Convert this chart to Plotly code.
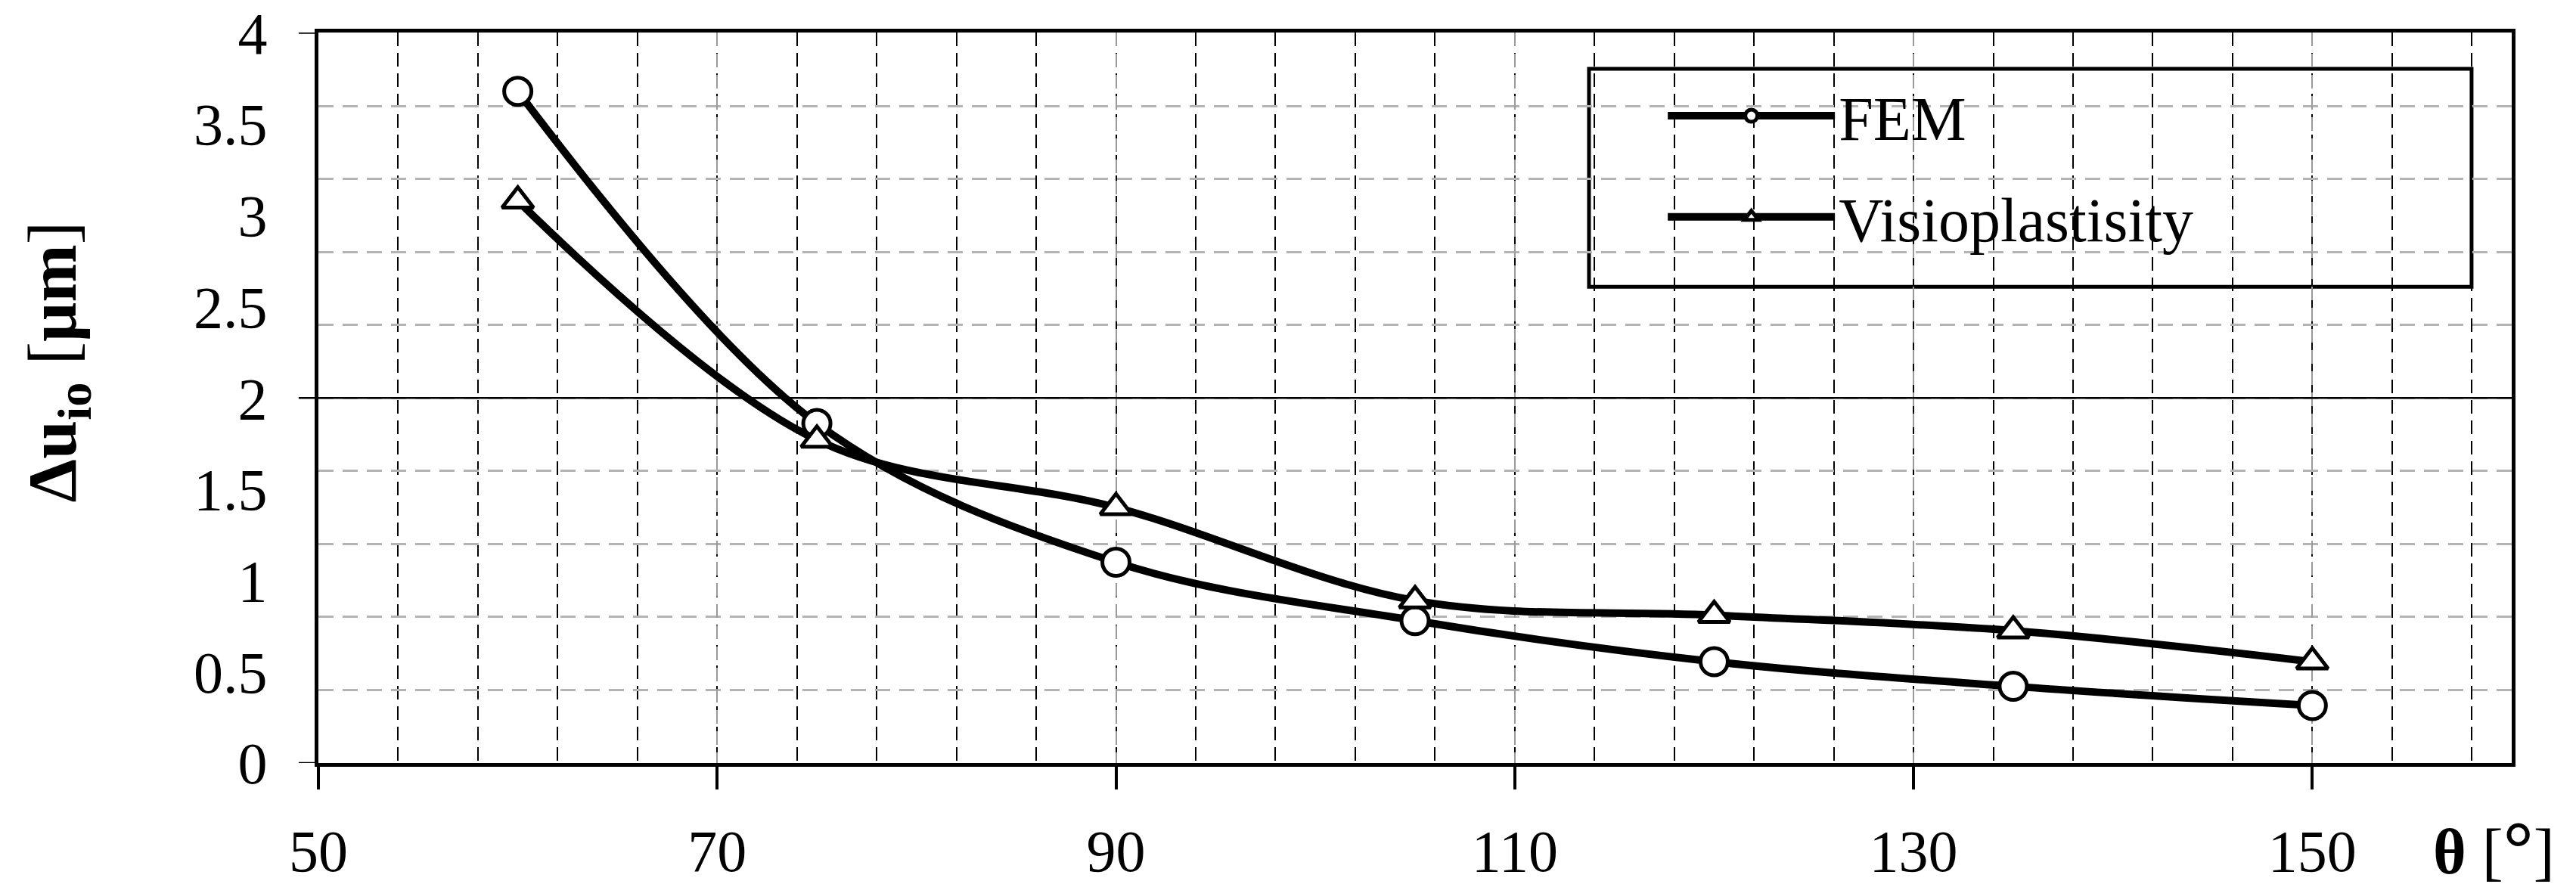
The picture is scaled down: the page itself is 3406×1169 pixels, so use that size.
import plotly.graph_objects as go

FONT = "Liberation Serif"

theta = [60, 75, 90, 105, 120, 135, 150]
fem = [3.68, 1.86, 1.10, 0.78, 0.555, 0.42, 0.315]
visio = [3.08, 1.77, 1.40, 0.89, 0.81, 0.725, 0.555]

x_ticks = [50, 70, 90, 110, 130, 150]
y_ticks = [0, 0.5, 1, 1.5, 2, 2.5, 3, 3.5, 4]
y_labels = ['0', '0.5', '1', '1.5', '2', '2.5', '3', '3.5', '4']

fig = go.Figure()

fig.add_trace(go.Scatter(
    x=theta, y=fem, name='FEM', legendgroup='fem',
    mode='lines+markers', cliponaxis=False,
    line=dict(color='black', width=10, shape='spline', smoothing=1),
    marker=dict(symbol='circle', size=36, color='white',
                line=dict(color='black', width=5))
))

fig.add_trace(go.Scatter(
    x=theta, y=visio, name='Visioplastisity', legendgroup='vis',
    mode='lines+markers', cliponaxis=False,
    line=dict(color='black', width=10, shape='spline', smoothing=1),
    marker=dict(symbol='triangle-up', size=36, color='white',
                line=dict(color='black', width=5))
))

# legend frame
fig.add_shape(type='rect', xref='paper', yref='paper',
              x0=0.5793, x1=0.9817, y0=0.652, y1=0.9503,
              line=dict(color='black', width=5), fillcolor='white', layer='below')

# solid major line at 2 and outside ticks on the y axis
fig.add_shape(type='line', xref='paper', yref='y', x0=-0.009, x1=1, y0=2, y1=2,
              line=dict(color='black', width=2.5))
for yv in (0, 4):
    fig.add_shape(type='line', xref='paper', yref='y', x0=-0.009, x1=0, y0=yv, y1=yv,
                  line=dict(color='black', width=2.5))

fig.add_annotation(
    text="<b>Δu<sub>io</sub></b> [<b>μm</b>]",
    xref='paper', yref='paper', x=-0.119, y=0.549,
    xanchor='center', yanchor='middle',
    textangle=-90, showarrow=False,
    font=dict(family=FONT, size=92, color='black')
)
fig.add_annotation(
    text="<b>θ</b> [<b><span style='font-size:100px'>°</span></b>]",
    xref='paper', yref='paper', x=0.992, y=-0.116,
    xanchor='center', yanchor='middle',
    showarrow=False, font=dict(family=FONT, size=84, color='black')
)

fig.update_layout(
    width=3406, height=1169,
    margin=dict(l=413, r=93, t=35, b=168, autoexpand=False),
    paper_bgcolor='white', plot_bgcolor='rgba(0,0,0,0)',
    font=dict(family=FONT, size=78, color='black'),
    showlegend=True,
    legend=dict(
        x=0.6135, y=0.948, xanchor='left', yanchor='top',
        bgcolor='rgba(0,0,0,0)', borderwidth=0,
        font=dict(family=FONT, size=82, color='black'),
        itemwidth=221, tracegroupgap=24, traceorder='grouped'
    ),
    xaxis=dict(
        range=[50, 160], tickmode='array', tickvals=x_ticks,
        ticks='outside', ticklen=30, tickwidth=4, tickcolor='black',
        ticklabelstandoff=14, ticklabeloverflow='allow', automargin=False,
        showgrid=True, gridcolor='#9a9a9a', gridwidth=2, griddash='18px,10px',
        showline=True, linecolor='black', linewidth=5, mirror=True,
        zeroline=False,
        minor=dict(dtick=4, tick0=50, showgrid=True, gridcolor='black',
                   gridwidth=2, griddash='18px,9px', ticks='')
    ),
    yaxis=dict(
        range=[0, 4.002], tickmode='array', tickvals=y_ticks, ticktext=y_labels,
        ticks='', showgrid=False, ticklabelstandoff=47, ticklabeloverflow='allow',
        automargin=False,
        showline=True, linecolor='black', linewidth=5, mirror=True,
        zeroline=False,
        minor=dict(tickmode='linear', dtick=0.4, tick0=0, showgrid=True,
                   gridcolor='#b4b4b4', gridwidth=3, griddash='20px,12px', ticks='')
    ),
)

fig.write_html("out.html")
